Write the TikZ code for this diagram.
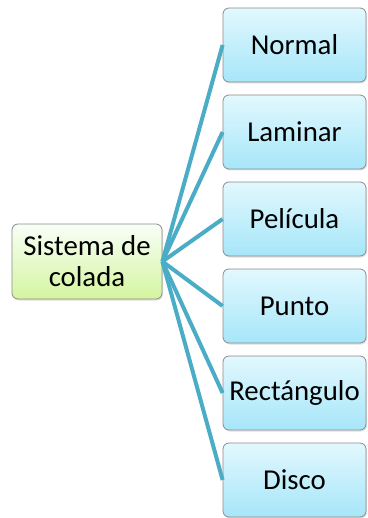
\documentclass[tikz,border=0pt]{standalone}
\usepackage{fontspec}
\setmainfont{Carlito}
\usetikzlibrary{shadows}

\definecolor{ramal}{HTML}{4BACC6}
\definecolor{borde}{HTML}{8C8C8C}
\tikzset{
    caja/.style={draw=borde, line width=0.8pt, rounded corners=6pt, align=center,
        inner sep=1pt, font=\fontsize{28.8}{31}\selectfont,
        drop shadow={opacity=0.25, shadow xshift=1pt, shadow yshift=-1.5pt}},
    raiz/.style={caja, minimum width=150pt, minimum height=75pt,
        top color=green!3!white, bottom color={rgb,255:red,212;green,245;blue,160}},
    tipo/.style={caja, minimum width=143pt, minimum height=74pt,
        top color={rgb,255:red,226;green,248;blue,254}, bottom color={rgb,255:red,166;green,230;blue,249}},
    enlace/.style={draw=ramal, line width=4pt}
}

\begin{document}
\begin{tikzpicture}[x=1pt, y=-1pt]
    \useasboundingbox (0,0) rectangle (367,518);
    % nodo raíz
    \node[raiz] (colada) at (87,261.5) {Sistema de\\colada};
    % tipos de sistema
    \foreach \t [count=\i] in {Normal, Laminar, Película, Punto, Rectángulo, Disco} {
        \node[tipo] (t\i) at (294.5, {45+87*(\i-1)}) {\t};
        \draw[enlace] (colada.east) -- (t\i.west);
    }
\end{tikzpicture}
\end{document}
